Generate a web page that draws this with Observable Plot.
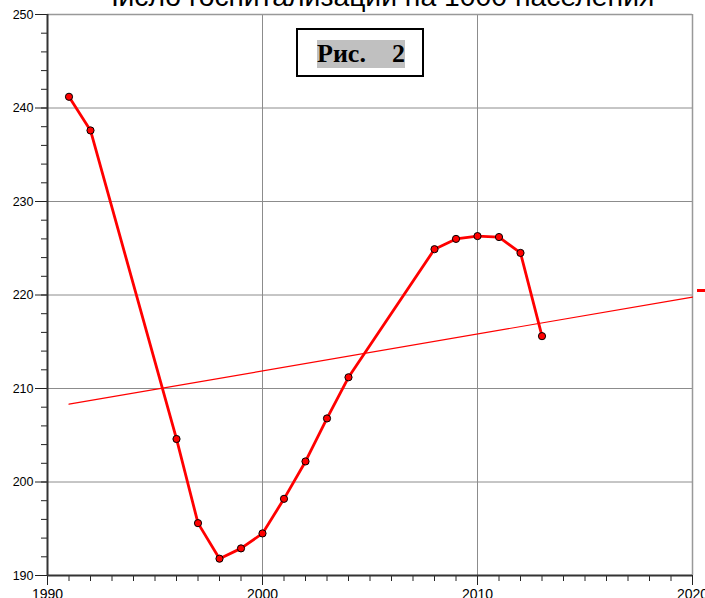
<!DOCTYPE html>
<html><head><meta charset="utf-8">
<script src="https://cdn.jsdelivr.net/npm/d3@7"></script>
<script src="https://cdn.jsdelivr.net/npm/@observablehq/plot@0.6"></script>
<style>
body{margin:0;background:#fff;}
#wrap{position:relative;width:705px;height:598px;overflow:hidden;background:#fff;}
#title{position:absolute;left:0;width:754px;text-align:center;white-space:nowrap;font-family:"Liberation Sans",Arial,sans-serif;line-height:1;color:#000;}
#box{position:absolute;left:296px;top:28px;width:124px;height:45px;border:2px solid #000;background:#fff;}
#box span{position:absolute;left:19px;top:10px;background:#c0c0c0;font:bold 26px "Liberation Serif","Times New Roman",serif;white-space:pre;line-height:28px;padding:0;}
#dash{position:absolute;left:697px;top:289px;width:9px;height:3px;background:#ff0000;}
#chart{position:absolute;left:0;top:0;}
</style></head>
<body><div id="wrap"><div id="chart"></div><div id="title">Число госпитализаций на 1000 населения</div><div id="box"><span>Рис.    2</span></div><div id="dash"></div></div>
<script>
const years = [1991,1992,1996,1997,1998,1999,2000,2001,2002,2003,2004,2008,2009,2010,2011,2012,2013];
const values = [241.2,237.6,204.6,195.6,191.8,192.9,194.5,198.2,202.2,206.8,211.2,224.9,226.0,226.3,226.2,224.5,215.6];
const trendRange = [1991, 2020];
const yMajor = [190,200,210,220,230,240,250];
const xMajor = [1990,2000,2010,2020];

const data = years.map((x,i)=>({x, y: values[i]}));
// least-squares trend line
const mx = d3.mean(years), my = d3.mean(values);
const slope = d3.sum(data, d=>(d.x-mx)*(d.y-my)) / d3.sum(data, d=>(d.x-mx)**2);
const trend = trendRange.map(x=>({x, y: my + slope*(x-mx)}));

const red = "#ff0000";
const chart = Plot.plot({
  width: 705, height: 598,
  marginLeft: 47, marginRight: 13, marginTop: 14, marginBottom: 23,
  style: {fontFamily: '"Liberation Sans", Arial, sans-serif', fontSize: "13px", background: "#fff", overflow: "visible"},
  x: {domain: [1990, 2020], label: null},
  y: {domain: [190, 250], label: null},
  marks: [
    Plot.gridY(yMajor.slice(1,-1), {stroke: "#8c8c8c", strokeOpacity: 1, strokeWidth: 1}),
    Plot.gridX(xMajor.slice(1,-1), {stroke: "#8c8c8c", strokeOpacity: 1, strokeWidth: 1}),
    Plot.ruleY([250], {stroke: "#999", strokeWidth: 1.5}),
    Plot.ruleX([2020], {stroke: "#999", strokeWidth: 1.5}),
    Plot.axisY({ticks: d3.range(190, 251, 2), tickSize: 6, text: null, stroke: "#222"}),
    Plot.axisY({ticks: yMajor, tickSize: 12, tickPadding: 2, stroke: "#222", fill: "#000", fontSize: 12.5, tickFormat: d=>String(d)}),
    Plot.axisX({ticks: d3.range(1990, 2021, 1), tickSize: 6, text: null, stroke: "#222"}),
    Plot.axisX({ticks: xMajor, tickSize: 10, tickPadding: 4, stroke: "#222", fill: "#000", fontSize: 14, tickFormat: d=>String(d)}),
    Plot.ruleX([1990], {stroke: "#333", strokeWidth: 2}),
    Plot.ruleY([190], {stroke: "#333", strokeWidth: 2}),
    Plot.line(trend, {x: "x", y: "y", stroke: red, strokeWidth: 1.2}),
    Plot.line(data, {x: "x", y: "y", stroke: red, strokeWidth: 2.8}),
    Plot.dot(data, {x: "x", y: "y", r: 3.6, fill: red, stroke: "#000", strokeWidth: 1})
  ]
});
document.getElementById("chart").appendChild(chart);

// title sized to its measured width in the reference, baseline near y=6
const t = document.getElementById("title");
const ctx = document.createElement("canvas").getContext("2d");
ctx.font = '100px "Liberation Sans", Arial, sans-serif';
const w100 = ctx.measureText(t.textContent).width;
const fs = 100 * 555 / w100;
t.style.fontSize = fs + "px";
t.style.top = (6 - 0.8465 * fs) + "px";
</script>
</body></html>
